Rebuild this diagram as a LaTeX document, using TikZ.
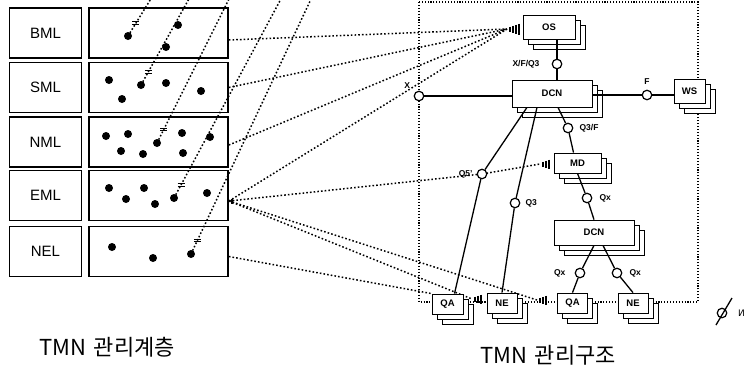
\documentclass[tikz,border=0pt]{standalone}
\usepackage{fontspec}
\setmainfont{Liberation Sans}
\newfontfamily\krfont{Noto Sans CJK KR}
\newfontfamily\cyrfont{DejaVu Sans}
\usetikzlibrary{positioning,shadows,backgrounds,calc}

\tikzset{
    lvlbox/.style={draw, line width=1.7pt, minimum width=72pt, minimum height=50pt,
        font=\fontsize{15}{15}\selectfont},
    areabox/.style={draw, line width=1.7pt, minimum width=139pt, minimum height=50pt},
    unitbox/.style={draw, thick, fill=white, inner sep=0pt,
        font=\bfseries\fontsize{9.5}{10}\selectfont,
        copy shadow={shadow xshift=10pt, shadow yshift=-10pt},
        copy shadow={shadow xshift=5pt, shadow yshift=-5pt}},
    ifc/.style={circle, draw, line width=1.2pt, fill=white, inner sep=0pt, minimum size=9.5pt},
    lbl/.style={font=\bfseries\fontsize{8.5}{9}\selectfont, inner sep=1pt},
    title/.style={font=\krfont\fontsize{22}{23}\selectfont},
    link/.style={line width=1.3pt},
    mgr/.style={line width=1.5pt, dash pattern=on 1.6pt off 2.1pt},
    border/.style={line width=1.1pt, dash pattern=on 1.1pt off 1.8pt},
    pics/linkmark/.style={code={
        \foreach \i in {1,...,#1}
            \draw[line width=1.1pt] (3*\i,-1.5-\i) -- (3*\i,1.5+\i);
    }},
    pics/eqmark/.style={code={
        \draw[line width=1pt] (-3.5,-1.4) -- (3.5,-1.4) (-3.5,1.4) -- (3.5,1.4);
    }}
}

\begin{document}
\begin{tikzpicture}[x=1pt, y=-1pt]
\useasboundingbox (0,0) rectangle (745,378);

% --- management layers (left)
\foreach \lvl/\yc in {BML/33, SML/87.5, NML/142, EML/195.5, NEL/251.5} {
    \node[lvlbox] (\lvl) at (45.5,\yc) {\lvl};
    \node[areabox] (\lvl-area) at (158.5,\yc) {};
}

% managers / agents inside each layer
\foreach \x/\y in {128/36, 178/25, 166/47,
                   109/80, 122/99, 141/85, 166/83, 201/91,
                   106/136, 128/134, 121/151, 143/154, 157/143, 182/133, 183/153, 210/137,
                   109/188, 126/199, 144/188, 155/204, 174/198, 207/193,
                   112/247, 153/258, 191/254}
    \fill (\x,\y) circle (4);

\coordinate (bmlmgr) at (128,36);  \coordinate (bmltop) at (152,-3);
\coordinate (smlmgr) at (141,85);  \coordinate (smltop) at (190,-3);
\coordinate (nmlmgr) at (157,143); \coordinate (nmltop) at (230,-3);
\coordinate (emlmgr) at (174,198); \coordinate (emltop) at (282,-3);
\coordinate (nelmgr) at (191,254); \coordinate (neltop) at (312,-3);

% --- TMN architecture (right)
\node[unitbox, minimum width=52pt, minimum height=24pt] (OS)   at (549,27)    {OS};
\node[unitbox, minimum width=80pt, minimum height=27pt] (DCN)  at (552,93.5)  {DCN};
\node[unitbox, minimum width=31pt, minimum height=24pt] (WS)   at (689.5,91)  {WS};
\node[unitbox, minimum width=47pt, minimum height=20pt] (MD)   at (577.5,163) {MD};
\node[unitbox, minimum width=80pt, minimum height=25pt] (DCN2) at (594,232.5) {DCN};
\node[unitbox, minimum width=31pt, minimum height=20pt] (QA1)  at (447.5,304) {QA};
\node[unitbox, minimum width=30pt, minimum height=20pt] (NE1)  at (502,303)   {NE};
\node[unitbox, minimum width=30pt, minimum height=20pt] (QA2)  at (572.5,303) {QA};
\node[unitbox, minimum width=30pt, minimum height=20pt] (NE2)  at (633,303)   {NE};

% interfaces
\node[ifc] (xfq) at (557,64)  {};
\node[ifc] (X)   at (419,96)  {};
\node[ifc] (F)   at (647,95)  {};
\node[ifc] (q3f) at (568,128) {};
\node[ifc] (q5)  at (482,174) {};
\node[ifc] (q3)  at (515,203) {};
\node[ifc] (qxa) at (587,198) {};
\node[ifc] (qxb) at (580,273) {};
\node[ifc] (qxc) at (617,273) {};

\node[lbl, left=11pt of xfq]   (xfqlbl) {X/F/Q3};
\node[lbl, above left=3pt and 4pt of X] (xlbl) {X};
\node[lbl, above=4pt of F]     (flbl)   {F};
\node[lbl, right=5pt of q3f]   (q3flbl) {Q3/F};
\node[lbl, left=3pt of q5]     (q5lbl)  {Q5'};
\node[lbl, right=4pt of q3]    (q3lbl)  {Q3};
\node[lbl, right=6pt of qxa]   (qxalbl) {Qx};
\node[lbl, left=8pt of qxb]    (qxblbl) {Qx};
\node[lbl, right=6pt of qxc]   (qxclbl) {Qx};

\coordinate (osin)   at (507,29);
\coordinate (mdin)   at (540,164);
\coordinate (qa1in)  at (472,299);
\coordinate (qa2in)  at (537,300);
\coordinate (emlout) at (229,201);

\pic at (osin)   {linkmark=4};
\pic at (mdin)   {linkmark=3};
\pic at (qa1in)  {linkmark=3};
\pic at (qa2in)  {linkmark=3};
\pic at (emlout) {linkmark=1};

% --- management relations (dotted)
\begin{scope}[on background layer]
    \draw[border] (419,2) rectangle (698,302);
    \foreach \lvl in {bml, sml, nml, eml, nel} {
        \draw[mgr] (\lvl mgr) -- (\lvl top);
        \pic at ($(\lvl mgr)!15pt!(\lvl top)$) {eqmark};
    }
    \draw[mgr] ([yshift=-7pt]BML-area.east) -- (osin);
    \draw[mgr] (SML-area.east) -- (osin);
    \draw[mgr] ([yshift=-3pt]NML-area.east) -- (osin);
    \draw[mgr] (emlout) -- (osin);
    \draw[mgr] (emlout) -- (q5.center) -- (mdin);
    \draw[mgr] (emlout) -- (qa2in);
    \draw[mgr] (emlout) -- (qa1in);
    \draw[mgr] ([yshift=-5pt]NEL-area.east) -- (QA1.north west);
\end{scope}

% --- physical links
\draw[link] (OS.south -| xfq) -- (xfq) -- (xfq |- DCN.north);
\draw[link] (X) -- (X -| DCN.west);
\draw[link] (DCN.east |- F) -- (F) -- (F -| WS.west);
\draw[link] ([xshift=-25pt]DCN.south) -- (q5) -- ([xshift=7pt]QA1.north);
\draw[link] ([xshift=-15pt]DCN.south) -- (q3) -- (NE1.north);
\draw[link] ([xshift=6pt]DCN.south) -- (q3f) -- ([xshift=-4pt]MD.north);
\draw[link] (MD.south) -- (qxa) -- (DCN2.north);
\draw[link] (DCN2.south) -- (qxb) -- (QA2.north);
\draw[link] ([xshift=9pt]DCN2.south) -- (qxc) -- (NE2.north);

% legend
\node[ifc] (legend) at (722,313) {};
\coordinate (legA) at (716,325);
\coordinate (legB) at (732,298);
\draw[link] (legA) -- (legB);
\node[anchor=west, inner sep=0pt, font=\cyrfont\fontsize{9}{9}\selectfont] (legtxt) at (738,313) {И};

% titles
\node[title] (lvltitle)  at (107,347) {TMN\hspace{8pt}관리계층};
\node[title] (archtitle) at (548,355) {TMN\hspace{8pt}관리구조};
\end{tikzpicture}
\end{document}
